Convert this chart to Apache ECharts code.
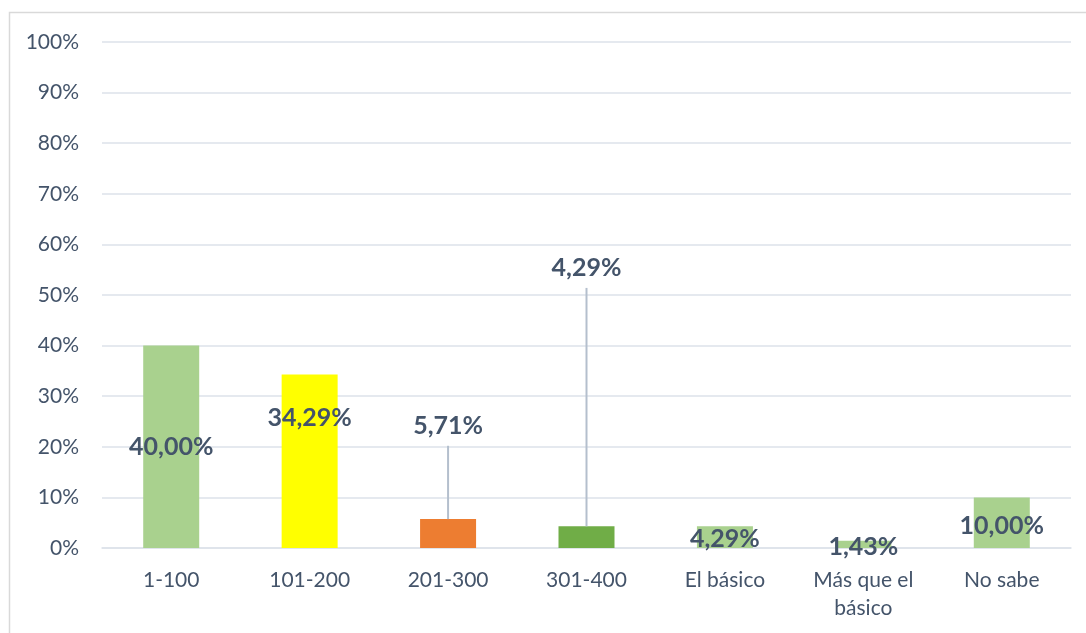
<!DOCTYPE html>
<html>
<head>
<meta charset="utf-8">
<script src="https://cdn.jsdelivr.net/npm/echarts@6/dist/echarts.min.js"></script>
<style>
  html, body { margin: 0; padding: 0; background: #fff; }
  #chart { width: 1086px; height: 633px; }
</style>
</head>
<body>
<div id="chart"></div>
<script>
const categories = ['1-100', '101-200', '201-300', '301-400', 'El básico', 'Más que el\nbásico', 'No sabe']
const values = [40.0, 34.29, 5.71, 4.29, 4.29, 1.43, 10.0]
const barColors = ['#A9D18E', '#FFFF00', '#ED7D31', '#70AD47', '#A9D18E', '#A9D18E', '#A9D18E']
const yTicks = [0, 10, 20, 30, 40, 50, 60, 70, 80, 90, 100]

// labels pulled away from their bar with a leader line: [category index, line end (value), label centre (value)]
const leaderLabels = [
  [2, 20.2, 24.1],
  [3, 51.4, 55.3]
]
// small nudges (px) for the labels that stay on the bar
const labelOffsets = [[0, 0], [0, -43], [0, 0], [0, 0], [0, 2], [0, 3], [0, 3]]

const textColor = '#44546A'
const font = 'Lato, "Open Sans", sans-serif'
const fmt = function (v) {
  return v.toFixed(2).replace('.', ',') + '%'
}
const leaderIdx = leaderLabels.map(function (d) { return d[0] })

const chart = echarts.init(document.getElementById('chart'))

const option = {
  animation: false,
  graphic: [
    {
      type: 'rect',
      shape: { x: 9.5, y: 12.5, width: 1100, height: 640 },
      style: { fill: 'none', stroke: '#D9D9D9', lineWidth: 1.5 },
      silent: true
    }
  ],
  grid: {
    left: 102,
    right: 15,
    top: 42,
    bottom: 85,
    containLabel: false
  },
  xAxis: {
    type: 'category',
    data: categories,
    axisTick: { show: false },
    axisLine: { lineStyle: { color: '#DDE2EA', width: 1.5 } },
    axisLabel: {
      color: textColor,
      fontFamily: font,
      fontSize: 21,
      margin: 18,
      lineHeight: 28,
      interval: 0
    }
  },
  yAxis: {
    type: 'value',
    min: yTicks[0],
    max: yTicks[yTicks.length - 1],
    interval: 10,
    axisLine: { show: false },
    axisTick: { show: false },
    splitLine: { lineStyle: { color: '#DDE2EA', width: 1.5 } },
    axisLabel: {
      color: textColor,
      fontFamily: font,
      fontSize: 21,
      margin: 23,
      formatter: '{value}%'
    }
  },
  series: [
    {
      type: 'bar',
      barWidth: 56,
      data: values.map(function (v, i) {
        return {
          value: v,
          itemStyle: { color: barColors[i] },
          label: { show: leaderIdx.indexOf(i) < 0, offset: labelOffsets[i] }
        }
      }),
      label: {
        position: 'inside',
        color: textColor,
        fontFamily: font,
        fontWeight: 'bold',
        fontSize: 25,
        formatter: function (p) {
          return fmt(p.value)
        }
      }
    },
    {
      type: 'custom',
      silent: true,
      z: 5,
      data: leaderLabels.map(function (d) {
        return [d[0], values[d[0]], d[1], d[2]]
      }),
      encode: { x: 0, y: 1 },
      renderItem: function (params, api) {
        const i = api.value(0)
        const barTop = api.coord([i, api.value(1)])
        const lineEnd = api.coord([i, api.value(2)])
        const labelPos = api.coord([i, api.value(3)])
        return {
          type: 'group',
          children: [
            {
              type: 'line',
              shape: { x1: barTop[0], y1: barTop[1], x2: lineEnd[0], y2: lineEnd[1] },
              style: { stroke: '#B4BFCD', lineWidth: 2 }
            },
            {
              type: 'text',
              x: labelPos[0],
              y: labelPos[1],
              style: {
                text: fmt(api.value(1)),
                fill: textColor,
                font: 'bold 25px ' + font,
                align: 'center',
                verticalAlign: 'middle'
              }
            }
          ]
        }
      }
    }
  ]
}

chart.setOption(option)
</script>
</body>
</html>
